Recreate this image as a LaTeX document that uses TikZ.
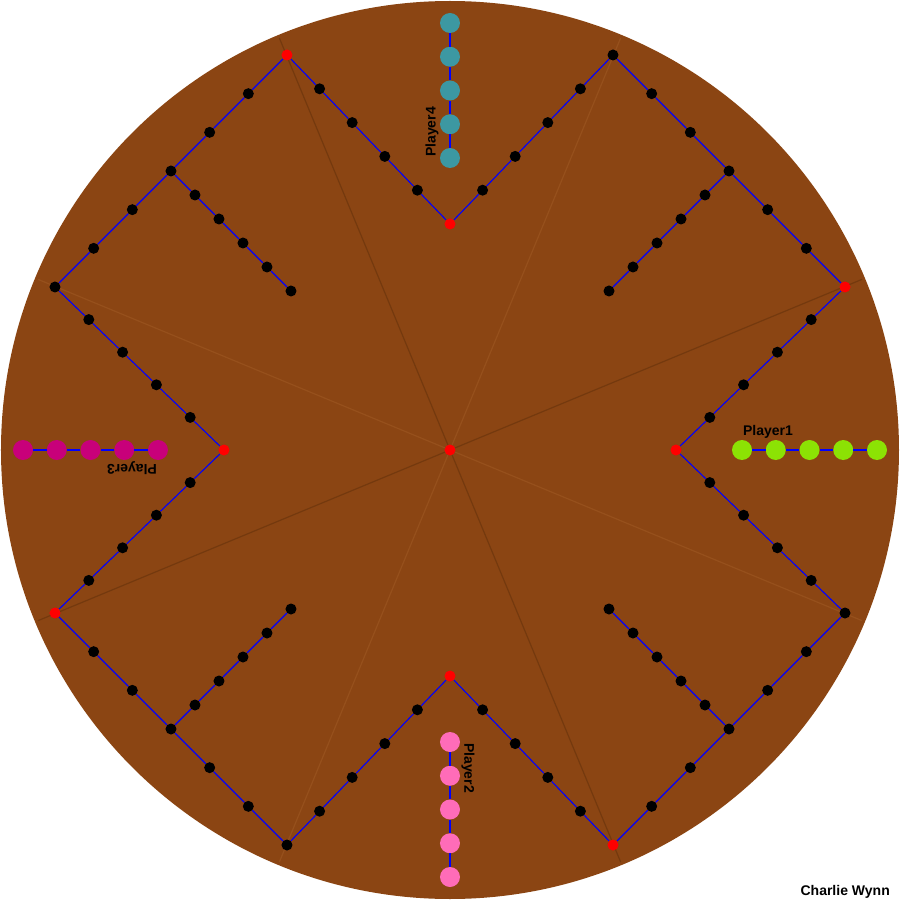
\documentclass[tikz,border=0pt]{standalone}
\usepackage{fontspec}
\setmainfont{Liberation Sans}
\definecolor{board}{RGB}{139,69,19}
\definecolor{spokedarkc}{RGB}{116,57,14}
\definecolor{spokelightc}{RGB}{150,80,28}
\definecolor{pgreen}{RGB}{140,226,4}
\definecolor{pteal}{RGB}{60,152,162}
\definecolor{pmag}{RGB}{200,0,122}
\definecolor{ppink}{RGB}{255,108,184}
\begin{document}
\begin{tikzpicture}[x=1pt,y=1pt,
  bdot/.style={circle,fill=black,inner sep=0pt,minimum size=11pt},
  rdot/.style={circle,fill=red,inner sep=0pt,minimum size=11pt},
  hdot/.style={circle,inner sep=0pt,minimum size=20pt},
  track/.style={draw=blue,line width=1.1pt},
  hline/.style={draw=blue,line width=2.2pt},
  spokedark/.style={draw=spokedarkc,line width=1.2pt},
  spokelight/.style={draw=spokelightc,line width=1.2pt},
  lbl/.style={font=\fontsize{14}{16}\selectfont\bfseries,inner sep=0pt}]
\useasboundingbox (-450,-450) rectangle (450,450);
\fill[board] (0,0) circle (449);
\node[rdot] (ctr) at (0,0) {};
\foreach \j in {0,...,7} \coordinate (sp\j) at ({22.5+45*\j}:446);
\foreach \j in {0,2,4,6} \draw[spokedark] (ctr) -- (sp\j);
\foreach \j in {1,3,5,7} \draw[spokelight] (ctr) -- (sp\j);
\foreach \k/\col/\pn in {0/pgreen/1,1/pteal/4,2/pmag/3,3/ppink/2}{
  \begin{scope}[rotate=90*\k]
    \node[rdot] (r\k) at (226,0) {};
    \node[rdot] (c\k) at (395,163) {};
    \node[bdot] (d\k) at (163,395) {};
    \foreach \i in {1,...,4}{
      \node[bdot] (a\k-\i) at ({226+33.8*\i},{32.6*\i}) {};
      \node[bdot] (e\k-\i) at ({163-32.6*\i},{395-33.8*\i}) {};
    }
    \foreach \i in {1,...,5}{
      \node[bdot] (b\k-\i) at ({395-38.667*\i},{163+38.667*\i}) {};
      \node[bdot] (s\k-\i) at ({279-24*\i},{279-24*\i}) {};
      \node[hdot,fill=\col] (h\k-\i) at ({292+33.75*(\i-1)},0) {};
    }
    \node[lbl,rotate=90*\k] (p\k) at (318,18) {Player\pn};
  \end{scope}
}
\foreach \k/\n in {0/1,1/2,2/3,3/0}{
  \draw[track] (r\k) -- (a\k-1) -- (a\k-2) -- (a\k-3) -- (a\k-4) -- (c\k)
    -- (b\k-1) -- (b\k-2) -- (b\k-3) -- (b\k-4) -- (b\k-5) -- (d\k)
    -- (e\k-1) -- (e\k-2) -- (e\k-3) -- (e\k-4) -- (r\n);
  \draw[track] (b\k-3) -- (s\k-1) -- (s\k-2) -- (s\k-3) -- (s\k-4) -- (s\k-5);
  \draw[hline] (h\k-1) -- (h\k-2) -- (h\k-3) -- (h\k-4) -- (h\k-5);
}
\node[lbl,anchor=east] (auth) at (440,-442) {Charlie Wynn};
\end{tikzpicture}
\end{document}
